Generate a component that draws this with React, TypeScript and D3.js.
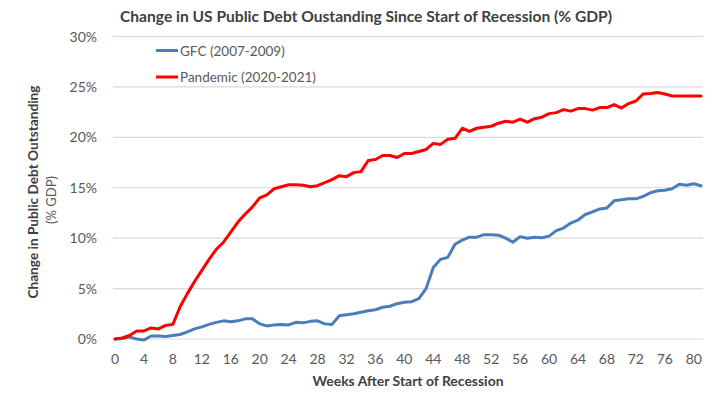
import React from "react";
import * as d3 from "d3";

const title = "Change in US Public Debt Oustanding Since Start of Recession (% GDP)";
const yTitle = "Change in Public Debt Outstanding";
const yTitleSub = "(% GDP)";
const xTitle = "Weeks After Start of Recession";
const seriesNames = ["GFC (2007-2009)", "Pandemic (2020-2021)"];
const seriesColors = ["#4a7ebb", "#ff0000"];

const gfc = [
  0, 0.05, 0.2, 0, -0.1, 0.3, 0.3, 0.25, 0.35, 0.45,
  0.7, 1.0, 1.2, 1.45, 1.65, 1.8, 1.7, 1.8, 2.0, 2.0,
  1.5, 1.3, 1.4, 1.45, 1.4, 1.65, 1.6, 1.75, 1.8, 1.5,
  1.45, 2.3, 2.4, 2.5, 2.65, 2.8, 2.9, 3.15, 3.25, 3.5,
  3.65, 3.7, 4.0, 5.0, 7.1, 7.9, 8.1, 9.4, 9.8, 10.1,
  10.1, 10.35, 10.35, 10.3, 10.0, 9.6, 10.15, 10.0, 10.1, 10.05,
  10.2, 10.75, 11.0, 11.5, 11.8, 12.35, 12.6, 12.9, 13.0, 13.7,
  13.8, 13.9, 13.9, 14.15, 14.5, 14.7, 14.75, 14.9, 15.35, 15.25,
  15.4, 15.2,
];

const pandemic = [
  0, 0.1, 0.35, 0.8, 0.8, 1.1, 1.0, 1.35, 1.45, 3.2,
  4.5, 5.7, 6.8, 7.9, 8.9, 9.6, 10.6, 11.6, 12.4, 13.1,
  14.0, 14.3, 14.9, 15.1, 15.3, 15.3, 15.25, 15.1, 15.2, 15.5,
  15.8, 16.2, 16.1, 16.5, 16.6, 17.7, 17.8, 18.2, 18.2, 18.0,
  18.4, 18.4, 18.6, 18.8, 19.4, 19.3, 19.8, 19.9, 20.9, 20.6,
  20.9, 21.0, 21.1, 21.4, 21.6, 21.5, 21.8, 21.5, 21.85, 22.0,
  22.35, 22.45, 22.75, 22.6, 22.85, 22.85, 22.7, 22.95, 22.95, 23.25,
  22.9, 23.35, 23.6, 24.3, 24.35, 24.45, 24.3, 24.1, 24.1, 24.1,
  24.1, 24.1,
];

const yTicks = [0, 5, 10, 15, 20, 25, 30];
const xTicks = [0, 4, 8, 12, 16, 20, 24, 28, 32, 36, 40, 44, 48, 52, 56, 60, 64, 68, 72, 76, 80];

const FONT = "Lato, 'Open Sans', sans-serif";

export default function App() {
  const W = 720;
  const H = 394;
  const left = 115;
  const right = 701;
  const top = 36.5;
  const bottom = 339;
  const n = gfc.length;
  const x = d3.scaleLinear().domain([0, n - 1]).range([left, right]);
  const y = d3.scaleLinear().domain([0, 30]).range([bottom, top]);
  const line = d3
    .line<number>()
    .x((_, i) => x(i))
    .y((d) => y(d));
  const series = [gfc, pandemic];

  return (
    <svg
      width={W}
      height={H}
      style={{ position: "absolute", left: 0, top: 0, background: "#fff" }}
      fontFamily={FONT}
    >
      <rect width={W} height={H} fill="#fff" />
      <text
        x={366}
        y={22}
        textAnchor="middle"
        fontSize={15}
        fontWeight="bold"
        fill="#404040"
        textLength={492}
        lengthAdjust="spacingAndGlyphs"
      >
        {title}
      </text>
      {yTicks.map((t) => (
        <g key={t}>
          <line x1={left - 2} x2={right + 2} y1={y(t)} y2={y(t)} stroke="#d9d9d9" strokeWidth={1.2} />
          <text x={97} y={y(t) + 5} textAnchor="end" fontSize={14} fill="#595959">
            {t + "%"}
          </text>
        </g>
      ))}
      {xTicks.map((t) => (
        <text key={t} x={x(t)} y={364} textAnchor="middle" fontSize={14} fill="#595959">
          {t}
        </text>
      ))}
      <text
        x={408}
        y={386}
        textAnchor="middle"
        fontSize={14}
        fontWeight="bold"
        fill="#404040"
        textLength={191}
        lengthAdjust="spacingAndGlyphs"
      >
        {xTitle}
      </text>
      <g transform="translate(38,192) rotate(-90)">
        <text
          x={0}
          y={0}
          textAnchor="middle"
          fontSize={14}
          fontWeight="bold"
          fill="#404040"
          textLength={213}
          lengthAdjust="spacingAndGlyphs"
        >
          {yTitle}
        </text>
      </g>
      <g transform="translate(56,200) rotate(-90)">
        <text x={0} y={0} textAnchor="middle" fontSize={13} fill="#595959">
          {yTitleSub}
        </text>
      </g>
      {series.map((s, i) => (
        <path
          key={i}
          d={line(s) || ""}
          fill="none"
          stroke={seriesColors[i]}
          strokeWidth={3}
          strokeLinejoin="round"
          strokeLinecap="round"
        />
      ))}
      {seriesNames.map((name, i) => (
        <g key={name} transform={`translate(156,${50.5 + i * 26.5})`}>
          <line x1={0} x2={22} y1={0} y2={0} stroke={seriesColors[i]} strokeWidth={3} />
          <text x={24} y={5} fontSize={13.5} fill="#595959">
            {name}
          </text>
        </g>
      ))}
    </svg>
  );
}
